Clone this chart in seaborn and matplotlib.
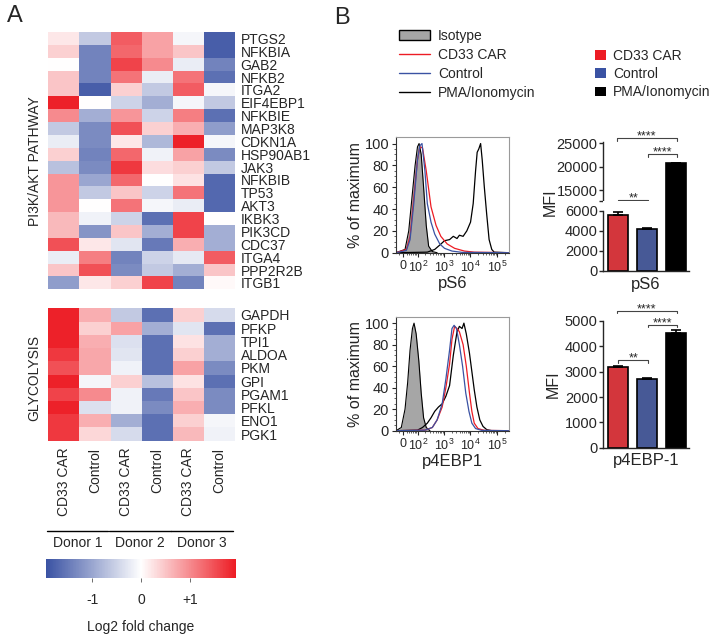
import numpy as np
import pandas as pd
import matplotlib
matplotlib.use('Agg')
import matplotlib.pyplot as plt
import seaborn as sns
from matplotlib.colors import LinearSegmentedColormap
from matplotlib.patches import Patch
from matplotlib.lines import Line2D
from matplotlib.transforms import blended_transform_factory

sns.set_style('ticks')
plt.rcParams['font.family'] = ['Liberation Sans', 'DejaVu Sans']
plt.rcParams['mathtext.fontset'] = 'custom'
plt.rcParams['mathtext.rm'] = 'Liberation Sans'
plt.rcParams['mathtext.it'] = 'Liberation Sans'

# ---------------- data ----------------
# heatmap (log2 fold change)
conditions = ['CD33 CAR', 'Control', 'CD33 CAR', 'Control', 'CD33 CAR', 'Control']
donors = ['Donor 1', 'Donor 2', 'Donor 3']

pi3k_genes = ['PTGS2', 'NFKBIA', 'GAB2', 'NFKB2', 'ITGA2', 'EIF4EBP1', 'NFKBIE',
              'MAP3K8', 'CDKN1A', 'HSP90AB1', 'JAK3', 'NFKBIB', 'TP53', 'AKT3',
              'IKBK3', 'PIK3CD', 'CDC37', 'ITGA4', 'PPP2R2B', 'ITGB1']
pi3k_values = [
    [0.2, -0.6, 1.4, 0.8, -0.1, -1.8],
    [0.4, -1.4, 1.3, 0.8, 0.5, -1.8],
    [0.0, -1.4, 1.6, 1.0, -0.2, -1.4],
    [0.5, -1.4, 1.2, -0.2, 1.2, -1.6],
    [0.5, -1.8, 0.4, -0.6, 1.4, -0.1],
    [1.9, 0.0, -0.5, -0.9, -0.1, -0.6],
    [1.0, -0.9, 0.9, -0.5, 1.1, -1.6],
    [-0.6, -1.3, 1.5, 0.4, 0.7, -1.1],
    [-0.2, -1.3, 0.2, -0.8, 1.9, -0.1],
    [0.4, -1.4, 1.3, -0.15, 0.8, -1.3],
    [-0.7, -1.3, 1.7, 0.3, 0.4, -0.6],
    [0.9, -1.0, 1.3, 0.0, 0.25, -1.7],
    [0.9, -0.6, 0.5, -0.5, 1.2, -1.7],
    [0.9, 0.0, 1.2, -0.1, -0.2, -1.7],
    [0.6, -0.15, -0.5, -1.6, 1.6, 0.0],
    [0.6, -1.2, 0.5, -0.9, 1.6, -0.9],
    [1.5, 0.2, -0.3, -1.5, 0.7, -0.9],
    [-0.2, 1.1, -1.4, -0.5, -0.25, 1.4],
    [0.5, 1.5, -1.3, -0.6, -0.9, 0.5],
    [-1.1, 0.2, 0.4, 1.6, -1.4, 0.05],
]

glyco_genes = ['GAPDH', 'PFKP', 'TPI1', 'ALDOA', 'PKM', 'GPI', 'PGAM1', 'PFKL', 'ENO1', 'PGK1']
glyco_values = [
    [1.9, 0.7, -0.6, -1.6, 0.4, -0.4],
    [1.9, 0.4, 0.8, -0.9, -0.3, -1.6],
    [1.9, 0.7, -0.35, -1.6, 0.25, -0.9],
    [1.7, 0.75, -0.3, -1.6, 0.4, -0.9],
    [1.5, 0.75, -0.15, -1.6, 0.8, -1.3],
    [1.9, -0.1, 0.4, -0.7, 0.25, -1.6],
    [1.6, 1.0, -0.15, -1.5, 0.5, -1.3],
    [1.9, -0.35, -0.15, -1.3, 0.7, -1.3],
    [1.7, 0.7, -0.9, -1.6, 0.4, -0.1],
    [1.7, 0.35, -0.4, -1.6, 0.6, -0.15],
]

# flow histograms (x = log10 fluorescence position, y = % of maximum)
ps6_iso_x = [1.2, 1.54, 1.68, 1.82, 1.92, 2.01, 2.07, 2.15, 2.24, 2.34, 2.43, 2.57, 2.75]
ps6_iso_y = [0, 3, 20, 55, 80, 97, 100, 90, 60, 25, 6, 1, 0]
ps6_car_x = [1.2, 1.59, 1.73, 1.87, 2.01, 2.10, 2.20, 2.34, 2.52, 2.71, 2.89, 3.13, 3.41, 3.78, 4.15, 5.46]
ps6_car_y = [0, 3, 15, 50, 85, 97, 96, 75, 42, 25, 15, 8, 4, 1.5, 0.5, 0]
ps6_ctl_x = [1.2, 1.59, 1.73, 1.87, 2.01, 2.10, 2.18, 2.29, 2.38, 2.52, 2.66, 2.85, 3.03, 3.31, 3.69, 5.46]
ps6_ctl_y = [0, 2, 12, 45, 85, 98, 100, 75, 45, 28, 17, 8, 4, 1.5, 0.3, 0]
ps6_pma_x = [1.2, 2.38, 2.66, 2.85, 3.03, 3.22, 3.36, 3.5, 3.59, 3.73, 3.87, 4.01, 4.11,
             4.20, 4.26, 4.32, 4.39, 4.45, 4.53, 4.62, 4.71, 4.81, 4.90, 5.46]
ps6_pma_y = [0, 0.5, 3, 7, 11, 12, 15, 13, 16, 15, 20, 28, 45, 75, 92, 95, 100, 85, 60, 35, 12, 3, 0.5, 0]

p4e_iso_x = [1.2, 1.40, 1.54, 1.64, 1.73, 1.82, 1.88, 1.96, 2.06, 2.15, 2.24, 2.34, 2.48]
p4e_iso_y = [0, 3, 20, 45, 75, 95, 100, 90, 65, 35, 12, 3, 0]
p4e_car_x = [1.2, 2.29, 2.57, 2.75, 2.94, 3.08, 3.22, 3.31, 3.41, 3.50, 3.59, 3.73, 3.85,
             3.97, 4.06, 4.15, 4.29, 4.53, 5.46]
p4e_car_y = [0, 0.5, 3, 10, 22, 40, 62, 85, 97, 95, 92, 80, 60, 35, 18, 7, 2, 0.3, 0]
p4e_ctl_x = [1.2, 2.29, 2.57, 2.75, 2.94, 3.08, 3.22, 3.31, 3.39, 3.48, 3.59, 3.71, 3.83,
             3.95, 4.06, 4.20, 4.43, 5.46]
p4e_ctl_y = [0, 0.5, 3, 10, 25, 48, 75, 95, 98, 95, 80, 60, 35, 18, 7, 2, 0.3, 0]
p4e_pma_x = [1.2, 2.01, 2.20, 2.38, 2.52, 2.66, 2.80, 2.94, 3.08, 3.22, 3.36, 3.5, 3.59, 3.69,
             3.76, 3.85, 3.97, 4.06, 4.15, 4.25, 4.36, 4.48, 4.62, 4.81, 5.46]
p4e_pma_y = [0, 0.5, 3, 7, 12, 18, 22, 25, 32, 42, 70, 92, 97, 95, 100, 90, 72, 55, 38, 22, 10, 4, 1, 0, 0]

hist_ticks = [1.48, 2.04, 3, 4, 5]
hist_ticklabels = ['0', '$10^2$', '$10^3$', '$10^4$', '$10^5$']

# MFI bars
bar_groups = ['CD33 CAR', 'Control', 'PMA/Ionomycin']
ps6_mfi = [5600, 4200, 20700]
ps6_sem = [330, 100, 200]
p4ebp1_mfi = [3200, 2710, 4540]
p4ebp1_sem = [40, 40, 100]

red = '#ED1C24'
blue = '#3A52A3'
bar_colors = {'CD33 CAR': red, 'Control': blue, 'PMA/Ionomycin': '#000000'}

# ---------------- figure ----------------
W, H = 721, 641
fig = plt.figure(figsize=(W / 100, H / 100), dpi=100)


def rect(x0, y0, x1, y1):
    return [x0 / W, 1 - y1 / H, (x1 - x0) / W, (y1 - y0) / H]


cmap = LinearSegmentedColormap.from_list('fc', [blue, '#FFFFFF', red])
vlim = 1.95

# heatmaps
ax_top = fig.add_axes(rect(48.3, 32, 235, 289.3))
sns.heatmap(pd.DataFrame(pi3k_values, index=pi3k_genes), ax=ax_top, cmap=cmap,
            vmin=-vlim, vmax=vlim, cbar=False, xticklabels=False, yticklabels=True)
ax_bot = fig.add_axes(rect(48.3, 308.3, 235, 440.7))
sns.heatmap(pd.DataFrame(glyco_values, index=glyco_genes), ax=ax_bot, cmap=cmap,
            vmin=-vlim, vmax=vlim, cbar=False, xticklabels=conditions, yticklabels=True)
for ax in (ax_top, ax_bot):
    ax.yaxis.tick_right()
    ax.tick_params(axis='y', length=0, pad=4, labelsize=10, labelrotation=0)
ax_bot.tick_params(axis='x', length=0, pad=5, labelsize=10, labelrotation=90)
ax_top.text(-0.071, 0.5, 'PI3K/AKT PATHWAY', rotation=90, ha='center', va='center',
            fontsize=10, transform=ax_top.transAxes)
ax_bot.text(-0.075, 0.47, 'GLYCOLYSIS', rotation=90, ha='center', va='center',
            fontsize=10, transform=ax_bot.transAxes)

# donor groups
tr = blended_transform_factory(ax_bot.transData, fig.transFigure)
for k, d in enumerate(donors):
    ax_bot.plot([2 * k - 0.05, 2 * k + 1.93], [1 - 531 / H] * 2, color='k', lw=1.0,
                transform=tr, clip_on=False)
    ax_bot.text(2 * k + 0.94, 1 - 543 / H, d, ha='center', va='center', fontsize=10,
                transform=tr)

# colorbar
cax = fig.add_axes(rect(46, 559, 236, 578))
cb = fig.colorbar(ax_bot.collections[0], cax=cax, orientation='horizontal')
cb.set_ticks([-1, 0, 1])
cb.set_ticklabels(['-1', '0', '+1'])
cb.outline.set_visible(False)
cax.tick_params(length=3, width=0.6, labelsize=10, pad=8, color='#555555')
cb.set_label('Log2 fold change', fontsize=10, labelpad=9)

# panel letters
fig.text(15 / W, 1 - 16 / H, 'A', fontsize=17, ha='center', va='center')
fig.text(342 / W, 1 - 18 / H, 'B', fontsize=17, ha='center', va='center')

# legends
h_left = [Patch(facecolor='#A6A6A6', edgecolor='k', lw=1.0),
          Line2D([], [], color=red, lw=1.0),
          Line2D([], [], color=blue, lw=1.0),
          Line2D([], [], color='k', lw=1.0)]
fig.legend(h_left, ['Isotype', 'CD33 CAR', 'Control', 'PMA/Ionomycin'], loc='upper left',
           bbox_to_anchor=(399 / W, 1 - 29 / H), frameon=False, fontsize=10,
           handlelength=2.2, handleheight=0.7, handletextpad=0.6, labelspacing=0.36,
           borderpad=0, borderaxespad=0)
h_right = [Patch(facecolor=bar_colors[g], edgecolor='none') for g in bar_groups]
fig.legend(h_right, bar_groups, loc='upper left', bbox_to_anchor=(595 / W, 1 - 49 / H),
           frameon=False, fontsize=10, handlelength=0.8, handleheight=0.7,
           handletextpad=0.5, labelspacing=0.3, borderpad=0, borderaxespad=0)


# histograms
def histo(ax, iso, car, ctl, pma, xlabel):
    ax.fill_between(iso[0], iso[1], color='#A6A6A6', lw=0)
    sns.lineplot(x=iso[0], y=iso[1], ax=ax, color='k', lw=0.8, sort=False, estimator=None)
    sns.lineplot(x=pma[0], y=pma[1], ax=ax, color='k', lw=0.9, sort=False, estimator=None)
    sns.lineplot(x=car[0], y=car[1], ax=ax, color=red, lw=0.9, sort=False, estimator=None)
    sns.lineplot(x=ctl[0], y=ctl[1], ax=ax, color=blue, lw=0.9, sort=False, estimator=None)
    ax.set_xlim(1.2, 5.46)
    ax.set_ylim(0, 106)
    ax.set_xticks(hist_ticks)
    ax.set_xticklabels(hist_ticklabels)
    minor = [d + np.log10(m) for d in range(1, 6) for m in range(2, 10)]
    ax.set_xticks([m for m in minor if 1.2 < m < 5.46], minor=True)
    ax.set_yticks([0, 20, 40, 60, 80, 100])
    ax.set_yticks(np.arange(0, 105, 5), minor=True)
    ax.tick_params(axis='both', which='major', length=3, width=0.8, labelsize=10.5, pad=2)
    ax.tick_params(axis='x', which='major', labelsize=9)
    ax.tick_params(axis='both', which='minor', length=1.5, width=0.5)
    for s in ('top', 'right'):
        ax.spines[s].set_color('#9A9A9A')
    for s in ('left', 'bottom'):
        ax.spines[s].set_color('#333333')
    for s in ax.spines.values():
        s.set_linewidth(0.8)
    ax.set_xlabel(xlabel, fontsize=12, labelpad=1)
    ax.set_ylabel('% of maximum', fontsize=11.5, labelpad=1)


ax_h1 = fig.add_axes(rect(396, 137, 509, 252.7))
histo(ax_h1, (ps6_iso_x, ps6_iso_y), (ps6_car_x, ps6_car_y), (ps6_ctl_x, ps6_ctl_y),
      (ps6_pma_x, ps6_pma_y), 'pS6')
ax_h2 = fig.add_axes(rect(396, 316.7, 509, 430.7))
histo(ax_h2, (p4e_iso_x, p4e_iso_y), (p4e_car_x, p4e_car_y), (p4e_ctl_x, p4e_ctl_y),
      (p4e_pma_x, p4e_pma_y), 'p4EBP1')


# bar charts
def bars(ax, mfi, sem):
    df = pd.DataFrame({'group': bar_groups, 'mfi': mfi})
    sns.barplot(data=df, x='group', y='mfi', hue='group', palette=bar_colors, order=bar_groups,
                width=0.7, edgecolor='k', linewidth=1.2, legend=False, ax=ax, errorbar=None)
    ax.errorbar(range(3), mfi, yerr=[[0, 0, 0], sem], fmt='none', ecolor='k',
                elinewidth=1.2, capsize=3.5, capthick=1.2)
    ax.set_xlim(-0.52, 2.46)
    ax.tick_params(axis='x', length=0, labelbottom=False)
    ax.tick_params(axis='y', length=3, width=1.0, labelsize=10.5, pad=1)
    ax.set_xlabel('')
    ax.set_ylabel('')
    sns.despine(ax=ax)
    for s in ax.spines.values():
        s.set_linewidth(1.0)


def bracket(ax, x1, x2, y, h, stars):
    ax.plot([x1, x1, x2, x2], [y - h, y, y, y - h], color='#444444', lw=0.8, clip_on=False)
    ax.annotate(stars, ((x1 + x2) / 2, y), xytext=(0, -1), textcoords='offset points',
                ha='center', va='baseline', fontsize=9, annotation_clip=False)


# broken y axis: lower part runs up to the break so the tall bar stays continuous
ax_b1u = fig.add_axes(rect(603.3, 141.7, 689, 201))
ax_b1l = fig.add_axes(rect(603.3, 201, 689, 271))
bars(ax_b1u, ps6_mfi, ps6_sem)
bars(ax_b1l, ps6_mfi, ps6_sem)
ax_b1u.set_ylim(12700, 25350)
ax_b1u.set_yticks([12700, 15000, 20000, 25000])
ax_b1u.set_yticklabels(['', '15000', '20000', '25000'])
ax_b1u.spines['bottom'].set_visible(False)
ax_b1l.set_ylim(0, 7000)
ax_b1l.spines['left'].set_bounds(0, 6000)
ax_b1l.set_yticks([0, 2000, 4000, 6000])
ax_b1l.set_xlabel('pS6', fontsize=12, labelpad=4)
fig.text(550 / W, 1 - 202 / H, 'MFI', rotation=90, ha='center', va='center', fontsize=11.5)
bracket(ax_b1u, 0, 1.05, 12860, 530, '**')
bracket(ax_b1u, -0.05, 2.03, 26070, 530, '****')
bracket(ax_b1u, 1.03, 2.05, 22710, 530, '****')

ax_b2 = fig.add_axes(rect(603.3, 321, 689, 447.7))
bars(ax_b2, p4ebp1_mfi, p4ebp1_sem)
ax_b2.set_ylim(0, 5000)
ax_b2.set_yticks([0, 1000, 2000, 3000, 4000, 5000])
ax_b2.set_xlabel('p4EBP-1', fontsize=12, labelpad=4)
ax_b2.set_ylabel('MFI', fontsize=11.5, labelpad=3)
bracket(ax_b2, 0, 1.05, 3462, 100, '**')
bracket(ax_b2, -0.05, 2.03, 5397, 100, '****')
bracket(ax_b2, 1.03, 2.05, 4844, 100, '****')

fig.savefig('out.png', dpi=100)
